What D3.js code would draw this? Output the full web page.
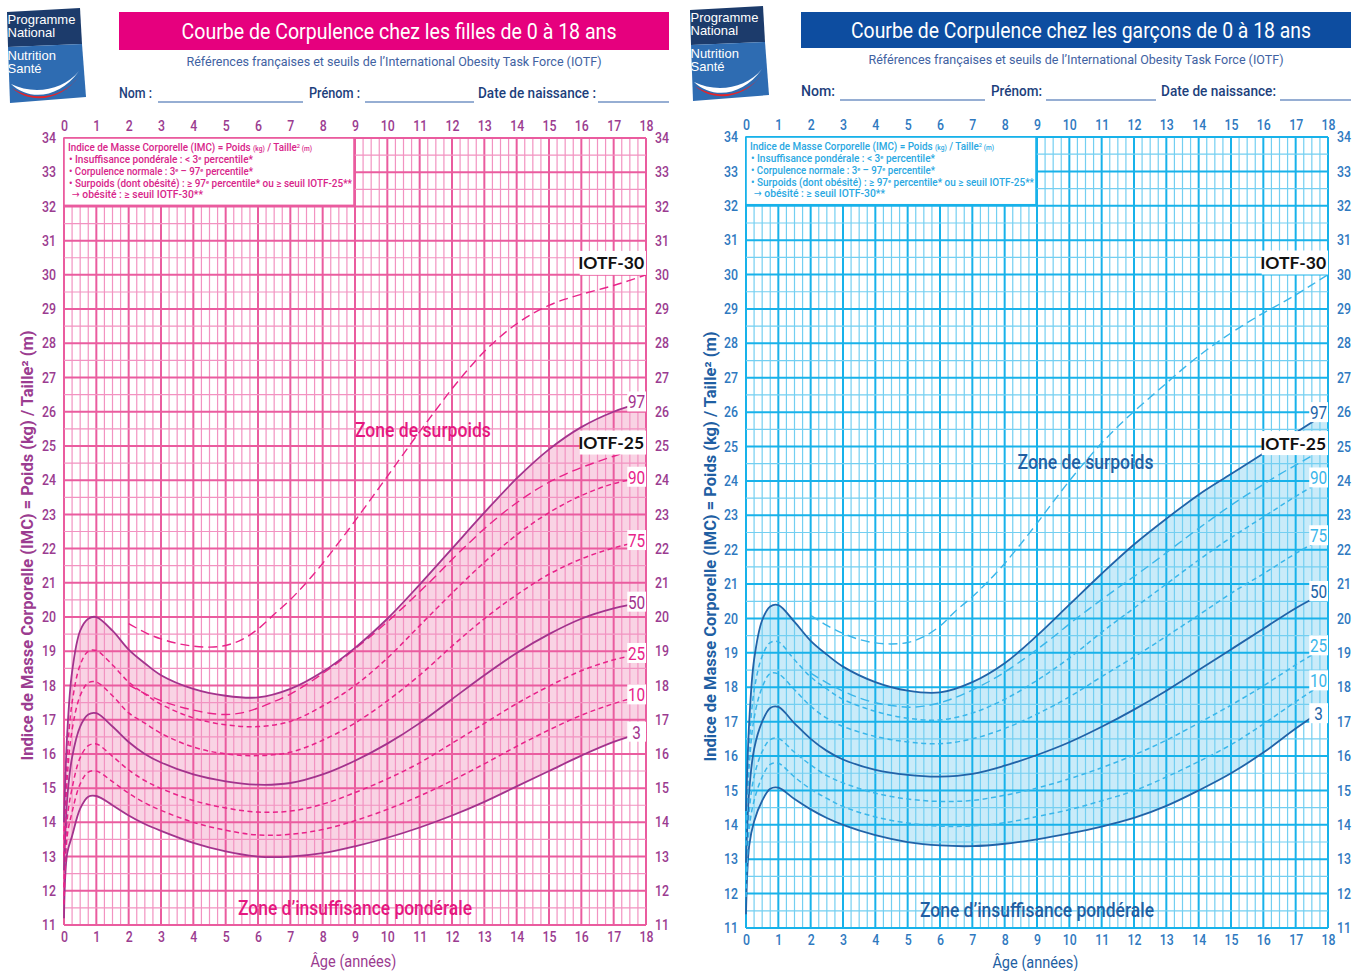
<!DOCTYPE html>
<html><head><meta charset="utf-8">
<script src="https://cdn.jsdelivr.net/npm/d3@7"></script>
<style>
body{margin:0;background:#fff;}
svg{display:block;}
text{font-family:Roboto,"Liberation Sans Narrow","DejaVu Sans Condensed",sans-serif;}
</style></head><body>
<svg id="c" width="1359" height="971"></svg>
<script>
// ---------- DATA ----------
const ages = [0, 0.1, 0.25, 0.5, 0.75, 1, 1.5, 2, 2.5, 3, 4, 5, 6, 7, 8, 9, 10, 11, 12, 13, 14, 15, 16, 17, 18];
const ageTicks = [0,1,2,3,4,5,6,7,8,9,10,11,12,13,14,15,16,17,18];
const bmiTicks = [11,12,13,14,15,16,17,18,19,20,21,22,23,24,25,26,27,28,29,30,31,32,33,34];
const percentileLabels = ["3","10","25","50","75","90","97"];

const girlsP97 = [14.0,16.6,18.4,19.6,19.95,20.0,19.6,19.05,18.65,18.3,17.9,17.7,17.65,17.9,18.4,19.1,19.95,20.95,22.0,23.05,24.05,24.9,25.55,26.0,26.3];
const girlsP90 = [13.5,15.9,17.5,18.6,19.0,19.02,18.6,18.1,17.75,17.45,17.05,16.85,16.8,16.95,17.4,18.0,18.8,19.75,20.7,21.6,22.4,23.05,23.55,23.9,24.1];
const girlsP75 = [13.0,15.3,16.7,17.7,18.08,18.1,17.7,17.2,16.9,16.6,16.2,16.0,15.95,16.05,16.4,16.9,17.55,18.3,19.15,19.95,20.65,21.25,21.7,22.02,22.25];
const girlsP50 = [12.6,14.7,15.9,16.8,17.15,17.19,16.8,16.35,16.0,15.75,15.4,15.2,15.1,15.15,15.4,15.8,16.3,16.9,17.6,18.3,18.95,19.5,19.95,20.25,20.45];
const girlsP25 = [12.1,14.1,15.0,15.89,16.24,16.29,15.93,15.53,15.22,14.99,14.64,14.42,14.3,14.33,14.53,14.87,15.27,15.74,16.31,16.89,17.47,17.98,18.43,18.75,18.95];
const girlsP10 = [11.6,13.6,14.3,15.12,15.47,15.5,15.19,14.85,14.57,14.35,14.0,13.77,13.63,13.65,13.79,14.05,14.38,14.77,15.22,15.71,16.22,16.7,17.13,17.47,17.74];
const girlsP3  = [11.2,13.1,13.6,14.4,14.75,14.77,14.5,14.2,13.95,13.75,13.4,13.15,13.0,13.0,13.1,13.3,13.55,13.85,14.2,14.6,15.05,15.5,15.95,16.35,16.65];

const boysP97 = [14.4,17.0,18.8,19.95,20.35,20.39,19.9,19.35,18.95,18.6,18.15,17.9,17.85,18.15,18.7,19.5,20.4,21.3,22.15,22.9,23.6,24.2,24.8,25.4,26.0];
const boysP90 = [13.9,16.3,17.9,18.9,19.3,19.32,18.8,18.3,17.95,17.65,17.3,17.1,17.05,17.25,17.65,18.2,18.85,19.6,20.3,21.0,21.7,22.35,22.95,23.55,24.1];
const boysP75 = [13.4,15.7,17.1,18.0,18.4,18.39,17.93,17.45,17.1,16.86,16.57,16.41,16.36,16.5,16.8,17.22,17.72,18.31,18.88,19.48,20.1,20.73,21.3,21.89,22.42];
const boysP50 = [12.9,15.0,16.2,17.0,17.4,17.43,16.95,16.5,16.15,15.9,15.6,15.45,15.4,15.48,15.72,16.03,16.4,16.85,17.35,17.9,18.5,19.1,19.7,20.3,20.8];
const boysP25 = [12.4,14.4,15.4,16.13,16.48,16.51,16.11,15.74,15.43,15.22,14.92,14.75,14.68,14.71,14.86,15.07,15.34,15.66,16.03,16.46,16.96,17.48,18.04,18.65,19.22];
const boysP10 = [11.9,13.9,14.7,15.39,15.76,15.79,15.39,15.04,14.77,14.53,14.23,14.05,13.96,13.97,14.06,14.24,14.44,14.7,14.99,15.39,15.84,16.33,16.93,17.58,18.2];
const boysP3  = [11.4,13.4,14.1,14.7,15.05,15.08,14.75,14.45,14.2,14.0,13.7,13.5,13.4,13.38,13.45,13.58,13.75,13.95,14.2,14.55,15.0,15.5,16.1,16.8,17.45];

const iotfAges = [2,2.5,3,3.5,4,4.5,5,5.5,6,6.5,7,7.5,8,8.5,9,9.5,10,10.5,11,11.5,12,12.5,13,13.5,14,14.5,15,15.5,16,16.5,17,17.5,18];
const girlsIotf25 = [18.02,17.76,17.56,17.40,17.28,17.19,17.15,17.20,17.34,17.53,17.75,18.03,18.35,18.69,19.07,19.45,19.86,20.29,20.74,21.20,21.68,22.14,22.58,22.98,23.34,23.66,23.94,24.17,24.37,24.54,24.70,24.85,25.0];
const girlsIotf30 = [19.81,19.55,19.36,19.23,19.15,19.12,19.17,19.34,19.65,20.08,20.51,21.01,21.57,22.18,22.81,23.46,24.11,24.77,25.42,26.05,26.67,27.24,27.76,28.20,28.57,28.87,29.11,29.29,29.43,29.56,29.69,29.84,30.0];
const boysIotf25 = [18.41,18.13,17.89,17.69,17.55,17.47,17.42,17.45,17.55,17.71,17.92,18.16,18.44,18.76,19.10,19.46,19.84,20.20,20.55,20.89,21.22,21.56,21.91,22.27,22.62,22.96,23.29,23.60,23.90,24.19,24.46,24.73,25.0];
const boysIotf30 = [20.09,19.80,19.57,19.39,19.29,19.26,19.30,19.47,19.78,20.23,20.63,21.09,21.60,22.17,22.77,23.39,24.00,24.57,25.10,25.58,26.02,26.43,26.84,27.25,27.63,27.98,28.30,28.60,28.88,29.14,29.41,29.70,30.0];

const girlsTitle = "Courbe de Corpulence chez les filles de 0 à 18 ans";
const boysTitle = "Courbe de Corpulence chez les garçons de 0 à 18 ans";
const subtitle = "Références françaises et seuils de l’International Obesity Task Force (IOTF)";

// ---------- DRAW ----------
const svg = d3.select('#c');
const smooth = d3.curveCatmullRom.alpha(0.5);

function logo(tx, ty) {
  const g = svg.append('g').attr('transform', `translate(${tx},${ty})`);
  g.append('path').attr('d','M0,4 L73,0 L75,36 L1,39 Z').attr('fill','#1c3b6b');
  g.append('path').attr('d','M1,39 L75,36 L79,89 L3,95 Z').attr('fill','#2e6cb2');
  const t = [["Programme",16],["National",29],["Nutrition",52],["Santé",65]];
  t.forEach(([s,yy])=>g.append('text').attr('x',0.5).attr('y',yy).text(s)
    .style('font-family','"Liberation Sans",Arial,sans-serif').style('font-size','13px').attr('fill','#fff'));
  g.append('path').attr('d','M4,76 C22,93 52,91 72,63 C56,83 26,87 4,76 Z').attr('fill','#fff');
  g.append('path').attr('d','M5,80 C24,97 55,93 73,67 C58,89 28,95 5,80 Z').attr('fill','#e2252b');
}

function panel(o) {
  const x = d3.scaleLinear().domain([0,18]).range([o.x0,o.x1]);
  const y = d3.scaleLinear().domain([11,34]).range([o.yb,o.yt]);
  const g = svg.append('g');

  // header
  logo(o.logoX, o.logoY);
  g.append('rect').attr('x',o.tx).attr('y',12).attr('width',550).attr('height',o.th).attr('fill',o.titleBg);
  g.append('text').attr('x',o.tx+280).attr('y',12+o.th/2+7.5).attr('text-anchor','middle')
    .attr('fill','#fff').style('font-size','22px').attr('textLength',o.titleLen).attr('lengthAdjust','spacingAndGlyphs').text(o.title);
  g.append('text').attr('x',o.tx+275).attr('y',o.subY).attr('text-anchor','middle')
    .attr('fill','#3f62a2').style('font-size','13px').attr('textLength',415).attr('lengthAdjust','spacingAndGlyphs').text(subtitle);
  o.fields.forEach(f=>{
    g.append('text').attr('x',f[0]).attr('y',o.fieldY).attr('fill','#1d3f7c').style('font-size','14px').style('font-weight','500')
      .attr('textLength',f[4]).attr('lengthAdjust','spacingAndGlyphs').text(f[1]);
    g.append('line').attr('x1',f[2]).attr('x2',f[3]).attr('y1',o.fieldY+4).attr('y2',o.fieldY+4).attr('stroke','#2f5fa8').attr('stroke-width',1.2);
  });

  // band between P3 and P97
  const bandData = ages.map((a,i)=>({a, lo:o.p[0][i], hi:o.p[6][i]}));
  g.append('path').datum(bandData)
    .attr('d', d3.area().x(d=>x(d.a)).y0(d=>y(d.lo)).y1(d=>y(d.hi)).curve(smooth))
    .attr('fill', o.band);

  // grid
  const grid = g.append('g');
  d3.range(0,18.001,0.25).forEach(v=>{
    const major = Math.abs(v-Math.round(v))<1e-6;
    grid.append('line').attr('x1',x(v)).attr('x2',x(v)).attr('y1',y(11)).attr('y2',y(34))
      .attr('stroke', major?o.gMaj:o.gMin).attr('stroke-width', major?2:1.2);
  });
  d3.range(11,34.001,0.5).forEach(v=>{
    const major = Math.abs(v-Math.round(v))<1e-6;
    grid.append('line').attr('x1',x(0)).attr('x2',x(18)).attr('y1',y(v)).attr('y2',y(v))
      .attr('stroke', major?o.gMaj:o.gMin).attr('stroke-width', major?2:1.2);
  });

  // legend box
  g.append('rect').attr('x',x(0)).attr('y',y(34)).attr('width',x(8.97)-x(0)).attr('height',y(32.03)-y(34))
    .attr('fill','#fff').attr('stroke',o.gMaj).attr('stroke-width',1.6);
  const lg = g.append('g').attr('fill',o.legendText).style('font-size','10.5px').style('font-weight','500');
  const bx = x(0)+4, by = y(34);
  let t1 = lg.append('text').attr('x',bx).attr('y',by+13).attr('textLength',244).attr('lengthAdjust','spacingAndGlyphs');
  t1.append('tspan').text('Indice de Masse Corporelle (IMC) = Poids ');
  t1.append('tspan').style('font-size','7px').text('(kg)');
  t1.append('tspan').text(' / Taille');
  t1.append('tspan').style('font-size','6px').attr('dy',-3).text('2');
  t1.append('tspan').style('font-size','7px').attr('dy',3).text(' (m)');
  let t2 = lg.append('text').attr('x',bx+1).attr('y',by+24.5).attr('textLength',184).attr('lengthAdjust','spacingAndGlyphs');
  t2.append('tspan').text('• Insuffisance pondérale : < 3');
  t2.append('tspan').style('font-size','6px').attr('dy',-3).text('e');
  t2.append('tspan').attr('dy',3).text(' percentile*');
  let t3 = lg.append('text').attr('x',bx+1).attr('y',by+37).attr('textLength',184).attr('lengthAdjust','spacingAndGlyphs');
  t3.append('tspan').text('• Corpulence normale : 3');
  t3.append('tspan').style('font-size','6px').attr('dy',-3).text('e');
  t3.append('tspan').attr('dy',3).text(' – 97');
  t3.append('tspan').style('font-size','6px').attr('dy',-3).text('e');
  t3.append('tspan').attr('dy',3).text(' percentile*');
  let t4 = lg.append('text').attr('x',bx+1).attr('y',by+49).attr('textLength',283).attr('lengthAdjust','spacingAndGlyphs');
  t4.append('tspan').text('• Surpoids (dont obésité) : ≥ 97');
  t4.append('tspan').style('font-size','6px').attr('dy',-3).text('e');
  t4.append('tspan').attr('dy',3).text(' percentile* ou ≥ seuil IOTF-25**');
  lg.append('text').attr('x',bx+4).attr('y',by+60).attr('textLength',131).attr('lengthAdjust','spacingAndGlyphs').text('→ obésité : ≥ seuil IOTF-30**');

  // IOTF curves
  const iline = d3.line().x(d=>x(d[0])).y(d=>y(d[1])).curve(smooth);
  [o.i25,o.i30].forEach(arr=>{
    g.append('path').datum(iotfAges.map((a,i)=>[a,arr[i]])).attr('d',iline)
      .attr('fill','none').attr('stroke',o.dashed).attr('stroke-width',1.4).attr('stroke-dasharray','9,5');
  });

  // percentile curves
  const pline = d3.line().x(d=>x(d[0])).y(d=>y(d[1])).curve(smooth);
  o.p.forEach((arr,k)=>{
    const solid = (k===0||k===3||k===6);
    g.append('path').datum(ages.map((a,i)=>[a,arr[i]])).attr('d',pline)
      .attr('fill','none').attr('stroke',solid?o.solid:o.dashed)
      .attr('stroke-width',solid?1.8:1.5).attr('stroke-dasharray',solid?null:'5,3.5');
  });

  // percentile labels
  o.p.forEach((arr,k)=>{
    const solid = (k===0||k===3||k===6);
    const yy = y(arr[arr.length-1]) + (o.labOff[k]||0);
    const lab = percentileLabels[k];
    g.append('rect').attr('x',x(17.42)).attr('y',yy-10).attr('width',x(18)-x(17.42)).attr('height',20).attr('fill','#fff');
    g.append('text').attr('x',(x(17.42)+x(18))/2).attr('y',yy+7).attr('text-anchor','middle')
      .attr('fill',solid?o.solid:o.dashed).style('font-size','19px')
      .attr('textLength',lab.length*8.6).attr('lengthAdjust','spacingAndGlyphs').text(lab);
  });

  // IOTF labels
  [["IOTF-30",o.i30[o.i30.length-1]+0.35],["IOTF-25",o.i25[o.i25.length-1]+0.1]].forEach(([s,v])=>{
    const yy=y(v);
    g.append('rect').attr('x',x(15.95)).attr('y',yy-12).attr('width',x(18)-x(15.95)).attr('height',24).attr('fill','#fff');
    g.append('text').attr('x',x(17.94)).attr('y',yy+6.5).attr('text-anchor','end')
      .style('font-family','Lato,"Open Sans",sans-serif').style('font-weight','bold').style('font-size','17.5px')
      .attr('fill','#111').text(s);
  });

  // zone labels
  g.append('text').attr('x',x(o.zs[0])).attr('y',y(o.zs[1])).attr('text-anchor','middle').attr('fill',o.zone)
    .style('font-size','21px').style('font-weight','500').attr('textLength',136).attr('lengthAdjust','spacingAndGlyphs').text('Zone de surpoids');
  g.append('text').attr('x',x(o.zi[0])).attr('y',y(o.zi[1])).attr('text-anchor','middle').attr('fill',o.zone)
    .style('font-size','21px').style('font-weight','500').attr('textLength',234).attr('lengthAdjust','spacingAndGlyphs').text('Zone d’insuffisance pondérale');

  // axes
  const styleAxis = sel => {
    sel.select('.domain').remove();
    sel.selectAll('text').attr('fill',o.tick).style('font-size','14.5px').style('font-weight','500')
      .attr('textLength',d=>String(d).length*7).attr('lengthAdjust','spacingAndGlyphs');
  };
  g.append('g').attr('transform',`translate(0,${y(34)})`).call(d3.axisTop(x).tickValues(ageTicks).tickSize(0).tickPadding(7)).call(styleAxis);
  g.append('g').attr('transform',`translate(0,${y(11)})`).call(d3.axisBottom(x).tickValues(ageTicks).tickSize(0).tickPadding(7)).call(styleAxis);
  g.append('g').attr('transform',`translate(${x(0)},0)`).call(d3.axisLeft(y).tickValues(bmiTicks).tickSize(0).tickPadding(8)).call(styleAxis);
  g.append('g').attr('transform',`translate(${x(18)},0)`).call(d3.axisRight(y).tickValues(bmiTicks).tickSize(0).tickPadding(9)).call(styleAxis);

  // axis titles
  g.append('text').attr('transform',`translate(${o.yTitleX},${(y(11)+y(34))/2+ 14}) rotate(-90)`)
    .attr('text-anchor','middle').attr('fill',o.axisTitle).style('font-weight','bold').style('font-size','16px')
    .attr('textLength',430).attr('lengthAdjust','spacingAndGlyphs')
    .text('Indice de Masse Corporelle (IMC) = Poids (kg) / Taille² (m)');
  g.append('text').attr('x',x(8.95)).attr('y',o.xTitleY).attr('text-anchor','middle').attr('fill',o.axisTitle)
    .style('font-size','17px').attr('textLength',86).attr('lengthAdjust','spacingAndGlyphs').text('Âge (années)');
}

panel({
  x0:64, x1:646, yb:925, yt:138, logoX:7, logoY:8,
  tx:119, th:38, titleBg:'#e6007e', title:girlsTitle, titleLen:435, subY:66, fieldY:98,
  fields:[[119,'Nom :',158,303,33],[309,'Prénom :',365,474,51],[478,'Date de naissance :',598,669,118]],
  band:'#f9d3e4', gMaj:'#ea5c9f', gMin:'#f293c1', solid:'#a3338d', dashed:'#e8238a',
  tick:'#9b3c90', legendText:'#d8258a', zone:'#e5177f', axisTitle:'#9b3c90',
  p:[girlsP3,girlsP10,girlsP25,girlsP50,girlsP75,girlsP90,girlsP97], labOff:[0,0,0,0,0,0,0],
  i25:girlsIotf25, i30:girlsIotf30, zs:[11.1,25.25], zi:[9.0,11.3], yTitleX:33, xTitleY:967
});
panel({
  x0:746, x1:1328, yb:928, yt:137, logoX:690, logoY:6,
  tx:801, th:36, titleBg:'#0d4da0', title:boysTitle, titleLen:460, subY:64, fieldY:96,
  fields:[[801,'Nom:',840,985,34],[991,'Prénom:',1046,1156,51],[1161,'Date de naissance:',1280,1351,115]],
  band:'#c9ebf9', gMaj:'#18b2ea', gMin:'#74cff1', solid:'#2163a8', dashed:'#3ab6ea',
  tick:'#2f79bf', legendText:'#2aa8e2', zone:'#1f5fa3', axisTitle:'#1f5fa3',
  p:[boysP3,boysP10,boysP25,boysP50,boysP75,boysP90,boysP97], labOff:[7,0,0,0,0,0,0],
  i25:boysIotf25, i30:boysIotf30, zs:[10.5,24.35], zi:[9.0,11.32], yTitleX:716, xTitleY:968
});
</script>
</body></html>
